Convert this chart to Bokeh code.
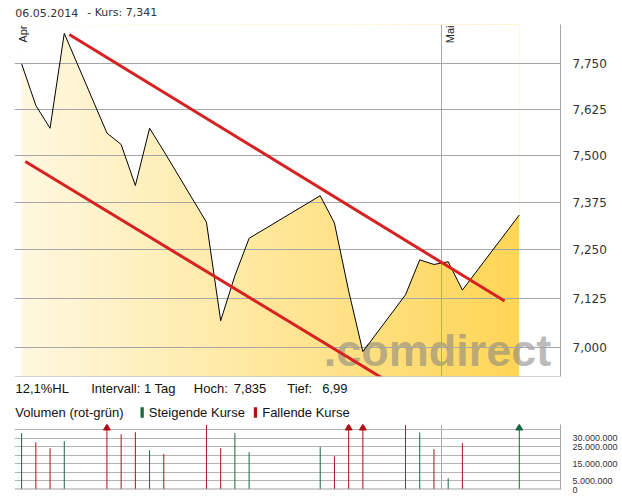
import numpy as np
import pandas as pd
from bokeh.plotting import figure
from bokeh.layouts import column
from bokeh.models import Range1d, FixedTicker, CustomJSTickFormatter, Span
from bokeh.core.properties import value
from bokeh.embed import file_html
from bokeh.resources import INLINE

# ---------------- data ----------------
dates = ["2014-04-01", "2014-04-02", "2014-04-03", "2014-04-04", "2014-04-07",
         "2014-04-08", "2014-04-09", "2014-04-10", "2014-04-11", "2014-04-14",
         "2014-04-15", "2014-04-16", "2014-04-17", "2014-04-22", "2014-04-23",
         "2014-04-24", "2014-04-25", "2014-04-28", "2014-04-29", "2014-04-30",
         "2014-05-01", "2014-05-02", "2014-05-06"]
close = [7.750, 7.635, 7.573, 7.835, 7.560, 7.529, 7.419, 7.573, 7.511, 7.322,
         7.068, 7.183, 7.280, 7.392, 7.320, 7.144, 6.990, 7.134, 7.224, 7.212,
         7.219, 7.146, 7.341]
volume_mio = [33.1, 27.8, 24.3, 28.4, 45.0, 32.5, 33.7, 23.1, 20.8, 38.0,
              24.3, 33.1, 21.9, 24.9, 19.6, 42.0, 44.0, 38.0, 33.5, 23.7,
              6.6, 27.2, 40.0]
price_ticks = [7.000, 7.125, 7.250, 7.375, 7.500, 7.625, 7.750]
volume_ticks = [0, 5e6, 15e6, 25e6, 30e6]
volume_grid = [0, 5e6, 10e6, 15e6, 20e6, 25e6, 30e6, 35e6]
month_starts = ["2014-04-01", "2014-05-01"]
month_labels = ["Apr", "Mai"]
trend_upper_t = ["2014-04-04 20:30", "2014-05-05 11:15"]
trend_upper_v = [7.832, 7.118]
trend_lower_t = ["2014-04-01 18:15", "2014-04-27 10:20"]
trend_lower_v = [7.483, 6.912]
interval_text = "Intervall: 1 Tag"
volume_title = "Volumen (rot-grün)"
legend_up = "Steigende Kurse"
legend_down = "Fallende Kurse"

PRICE_MIN, PRICE_MAX = 6.928, 7.860
VOL_MAX = 38.2e6
DAYS_SHOWN = 38.4

origin = pd.Timestamp(month_starts[0])


def days(ts):
    return ((pd.to_datetime(pd.Series(ts)) - origin) / pd.Timedelta(days=1)).to_numpy()


x = days(dates) + 0.5          # closes plotted at mid-day
close_a = np.array(close)
vol = np.array(volume_mio) * 1e6
up = np.concatenate([[True], close_a[1:] >= close_a[:-1]])
UP_C, DOWN_C = "#17673f", "#aa1414"
bar_colors = [UP_C if u else DOWN_C for u in up]

GRID_C = "#a6a6a6"
W = 622
BL, BR = 14, 62                # left / right borders (frame spans page x 14..560)
FX0, FX1 = BL, W - BR          # frame edges in page pixels, for the text rows

xr = Range1d(0, DAYS_SHOWN)


def plain(fig):
    fig.outline_line_color = None
    fig.background_fill_color = "white"
    fig.border_fill_color = "white"
    return fig


def text_row(height):
    f = plain(figure(width=W, height=height, x_range=Range1d(FX0, FX1), y_range=Range1d(height, 0),
                     x_axis_location=None, y_axis_location=None, toolbar_location=None,
                     output_backend="svg", min_border_left=BL, min_border_right=BR,
                     min_border_top=0, min_border_bottom=0))
    f.xgrid.visible = False
    f.ygrid.visible = False
    return f


# ---------------- title row ----------------
ft = text_row(24)
last_date = pd.Timestamp(dates[-1]).strftime("%d.%m.%Y")
kurs = f"- Kurs: {close[-1]:.3f}".replace(".", ",")
ft.text(x=[14.7, 86.7], y=[12.4, 12.4], text=[last_date, kurs],
        text_font=value("DejaVu Sans"), text_font_size="11px", text_color="#333333",
        text_baseline="middle", text_align="left")

# ---------------- price panel ----------------
p = plain(figure(width=W, height=354, x_range=xr, y_range=Range1d(PRICE_MIN, PRICE_MAX),
                 y_axis_type="log", x_axis_location=None, y_axis_location="right",
                 toolbar_location=None, output_backend="svg",
                 min_border_left=BL, min_border_right=BR, min_border_top=0, min_border_bottom=2))
p.yaxis.ticker = FixedTicker(ticks=price_ticks)
p.yaxis.formatter = CustomJSTickFormatter(code="return tick.toFixed(3).replace('.', ',');")
p.yaxis.major_tick_line_color = None
p.yaxis.minor_tick_line_color = None
p.yaxis.axis_line_color = GRID_C
p.yaxis.major_label_standoff = 6
p.yaxis.major_label_text_font = "DejaVu Sans"
p.yaxis.major_label_text_font_size = "12px"
p.yaxis.major_label_text_color = "#333333"
p.ygrid.ticker = FixedTicker(ticks=price_ticks)
p.ygrid.grid_line_color = GRID_C
p.xgrid.ticker = FixedTicker(ticks=list(days(month_starts)))
p.xgrid.grid_line_color = GRID_C

# gradient fill under the price line (vertical strips + white mask above the line)
n = 160
edges = np.linspace(x[0], x[-1], n + 1)
t = np.linspace(0, 1, n)
c0 = np.array([255, 248, 224])
c1 = np.array([255, 213, 86])
strip_cols = ["#%02x%02x%02x" % tuple(np.round(c0 + (c1 - c0) * ti).astype(int)) for ti in t]
step = edges[1] - edges[0]
p.quad(left=edges[:-1], right=np.minimum(edges[1:] + step * 0.6, x[-1]),
       bottom=PRICE_MIN, top=PRICE_MAX, fill_color=strip_cols, line_color=None, level="image")
p.varea(x=x, y1=close_a, y2=PRICE_MAX, fill_color="white", level="image")

# watermark
p.text(x=[21.75], y=[6.992], text=[".comdirect"], text_font=value("Liberation Sans"),
       text_font_style="bold", text_font_size="45px", text_color="#808080", text_alpha=0.55,
       text_baseline="middle", text_align="left", level="image")

p.add_layout(Span(location=PRICE_MIN, dimension="width", line_color=GRID_C, line_width=1))

p.line(x, close_a, line_color="black", line_width=1)
p.line(days(trend_upper_t), trend_upper_v, line_color="#d82222", line_width=3)
p.line(days(trend_lower_t), trend_lower_v, line_color="#d82222", line_width=3)

p.text(x=days(month_starts), y=[PRICE_MAX] * len(month_starts), text=month_labels,
       angle=np.pi / 2, x_offset=2.5, y_offset=1, text_align="right", text_baseline="top",
       text_font=value("Liberation Sans"), text_font_size="11px", text_color="#222222")

# ---------------- info rows ----------------
fi = text_row(44)
hi, lo = max(close), min(close)
hl = f"{(hi - lo) / lo * 100:.1f}%HL".replace(".", ",")
hoch = f"{hi:.3f}".replace(".", ",")
tief = f"{lo:.3f}".rstrip("0").replace(".", ",")
fi.text(x=[15, 90.7, 193.3, 233.3, 286.7, 321.7], y=[9.5] * 6,
        text=[hl, interval_text, "Hoch:", hoch, "Tief:", tief],
        text_font=value("Liberation Sans"), text_font_size="13px", text_color="#111111",
        text_baseline="middle", text_align="left")
fi.text(x=[14.7, 148.3, 261.7], y=[34.3] * 3, text=[volume_title, legend_up, legend_down],
        text_font=value("Liberation Sans"), text_font_size="13px", text_color="#111111",
        text_baseline="middle", text_align="left")
fi.quad(left=[140, 253.3], right=[143.3, 256.6], top=[28.7, 28.7], bottom=[39.3, 39.3],
        fill_color=[UP_C, DOWN_C], line_color=None)

# ---------------- volume panel ----------------
v = plain(figure(width=W, height=72, x_range=xr, y_range=Range1d(0, VOL_MAX),
                 x_axis_location=None, y_axis_location="right", toolbar_location=None,
                 output_backend="svg", min_border_left=BL, min_border_right=BR,
                 min_border_top=2, min_border_bottom=5))
v.yaxis.ticker = FixedTicker(ticks=volume_ticks)
v.yaxis.formatter = CustomJSTickFormatter(
    code=r"return tick.toFixed(0).replace(/\B(?=(\d{3})+(?!\d))/g, '.');")
v.yaxis.major_tick_line_color = None
v.yaxis.minor_tick_line_color = None
v.yaxis.axis_line_color = GRID_C
v.yaxis.major_label_standoff = 6
v.yaxis.major_label_text_font = "Liberation Sans"
v.yaxis.major_label_text_font_size = "9px"
v.yaxis.major_label_text_color = "#333333"
v.ygrid.ticker = FixedTicker(ticks=volume_grid)
v.ygrid.grid_line_color = "#b4b4b4"
v.xgrid.ticker = FixedTicker(ticks=list(days(month_starts)))
v.xgrid.grid_line_color = GRID_C

v.segment(x0=x, y0=0, x1=x, y1=np.minimum(vol, VOL_MAX), line_color=bar_colors, line_width=1)
over = vol > VOL_MAX
v.scatter(x=x[over], y=[VOL_MAX * (1 - 3.5 / 65)] * int(over.sum()), marker="triangle", size=7,
          fill_color=[c for c, o in zip(bar_colors, over) if o],
          line_color=[c for c, o in zip(bar_colors, over) if o])
v.add_layout(Span(location=0, dimension="width", line_color="#a0a0a0", line_width=2))

layout = column(ft, p, fi, v, spacing=0)
open("out.html", "w").write(file_html(layout, INLINE))
